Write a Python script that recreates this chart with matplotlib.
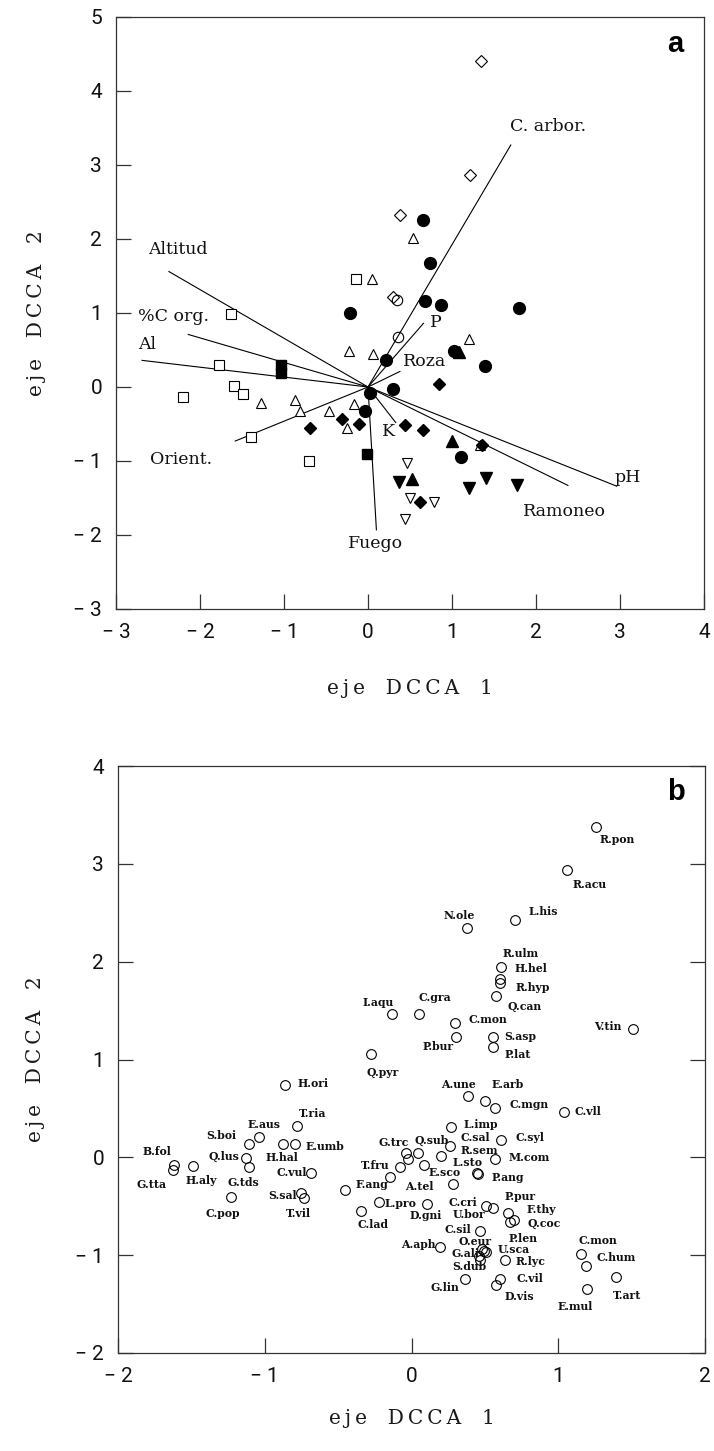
import matplotlib
matplotlib.use("Agg")
import matplotlib.pyplot as plt
import numpy as np

# ---------------- Panel a data ----------------
open_sq_x = [-0.14, -1.63, -1.77, -1.59, -1.49, -2.20, -1.39, -0.70]
open_sq_y = [1.46, 0.99, 0.30, 0.01, -0.09, -0.13, -0.68, -1.00]
fill_sq_x = [-1.03, -1.03, -0.01]
fill_sq_y = [0.30, 0.19, -0.91]
open_tri_x = [0.05, 0.54, -0.23, 0.06, 1.20, -1.27, -0.87, -0.81, -0.46, -0.17, -0.25, 1.33]
open_tri_y = [1.46, 2.01, 0.48, 0.44, 0.65, -0.22, -0.18, -0.33, -0.32, -0.23, -0.56, -0.78]
fill_tri_x = [1.08, 1.00, 0.52]
fill_tri_y = [0.47, -0.73, -1.24]
open_itri_x = [0.46, 0.50, 0.79, 0.44]
open_itri_y = [-1.03, -1.50, -1.55, -1.78]
fill_itri_x = [0.37, 1.20, 1.40, 1.77]
fill_itri_y = [-1.28, -1.37, -1.23, -1.33]
open_dia_x = [1.35, 1.21, 0.38, 0.30]
open_dia_y = [4.40, 2.87, 2.33, 1.22]
fill_dia_x = [0.85, -0.69, -0.31, -0.11, 0.44, 0.66, 1.36, 0.62]
fill_dia_y = [0.04, -0.55, -0.43, -0.50, -0.52, -0.58, -0.79, -1.55]
open_cir_x = [0.35, 0.36]
open_cir_y = [1.17, 0.68]
fill_cir_x = [0.65, 0.74, 0.675, 0.87, 1.80, -0.22, 1.02, 0.22, 1.39, 0.30, 0.02, -0.03, 1.11]
fill_cir_y = [2.26, 1.68, 1.16, 1.11, 1.07, 1.00, 0.48, 0.36, 0.28, -0.03, -0.08, -0.32, -0.94]

# environmental vectors (end points)
vec_names = ["Altitud", "%C org.", "Al", "Orient.", "Fuego", "K", "P", "Roza",
             "C. arbor.", "pH", "Ramoneo"]
vec_x = [-2.37, -2.14, -2.69, -1.58, 0.10, 0.33, 0.66, 0.38, 1.70, 2.96, 2.38]
vec_y = [1.56, 0.71, 0.36, -0.73, -1.93, -0.48, 0.86, 0.21, 3.27, -1.34, -1.33]
# label anchor positions (layout)
vec_lab_pos = [(-2.62, 1.855), (-2.74, 0.954), (-2.74, 0.57), (-2.60, -0.98),
               (-0.24, -2.11), (0.24, -0.60), (0.81, 0.865), (0.417, 0.346),
               (1.69, 3.52), (2.94, -1.225), (1.85, -1.68)]

# ---------------- Panel b data ----------------
sp_names = ["R.pon", "R.acu", "N.ole", "L.his", "R.ulm", "H.hel", "R.hyp", "Q.can",
            "C.gra", "I.aqu", "C.mon", "V.tin", "P.bur", "S.asp", "P.lat", "Q.pyr",
            "H.ori", "A.une", "E.arb", "C.mgn", "C.vll", "T.ria", "E.aus", "S.boi",
            "L.imp", "C.sal", "C.syl", "G.trc", "Q.sub", "R.sem", "M.com", "E.umb",
            "H.hal", "B.fol", "Q.lus", "G.tds", "G.tta", "H.aly", "C.vul", "T.fru",
            "E.sco", "L.sto", "P.ang", "A.tel", "F.ang", "S.sal", "T.vil", "C.pop",
            "L.pro", "C.lad", "D.gni", "C.cri", "U.bor", "P.pur", "F.thy", "Q.coc",
            "C.sil", "P.len", "A.aph", "O.eur", "G.ali", "S.dub", "U.sca", "R.lyc",
            "C.mon", "C.hum", "G.lin", "C.vil", "D.vis", "E.mul", "T.art", "", ""]
sp_x = [1.254, 1.059, 0.378, 0.707, 0.607, 0.600, 0.605, 0.578,
        0.050, -0.136, 0.295, 1.507, 0.306, 0.555, 0.555, -0.277,
        -0.862, 0.385, 0.499, 0.571, 1.038, -0.778, -1.039, -1.107,
        0.272, 0.261, 0.612, -0.039, 0.045, 0.199, 0.571, -0.794,
        -0.878, -1.617, -1.127, -1.107, -1.628, -1.492, -0.685, -0.080,
        0.086, 0.446, 0.455, 0.283, -0.454, -0.753, -0.731, -1.229,
        -0.222, -0.345, 0.106, 0.510, 0.555, 0.657, 0.698, 0.669,
        0.465, 0.478, 0.197, 0.494, 0.458, 0.465, 0.505, 0.635,
        1.152, 1.190, 0.367, 0.605, 0.578, 1.197, 1.395, -0.023, -0.148]
sp_y = [3.372, 2.940, 2.340, 2.431, 1.949, 1.821, 1.786, 1.644,
        1.465, 1.465, 1.369, 1.312, 1.234, 1.234, 1.125, 1.059,
        0.735, 0.624, 0.576, 0.509, 0.464, 0.321, 0.203, 0.132,
        0.305, 0.115, 0.176, 0.040, 0.041, 0.013, -0.017, 0.132,
        0.132, -0.078, -0.010, -0.096, -0.129, -0.092, -0.157, -0.102,
        -0.078, -0.163, -0.175, -0.272, -0.331, -0.366, -0.417, -0.401,
        -0.452, -0.547, -0.475, -0.496, -0.519, -0.570, -0.638, -0.661,
        -0.757, -0.940, -0.916, -0.960, -1.011, -1.045, -0.970, -1.052,
        -0.984, -1.106, -1.241, -1.248, -1.309, -1.350, -1.225, -0.020, -0.197]
# label offsets in pixels (layout)
sp_off = [(21.5, -12), (22.4, -14.4), (-8, 13.3), (28.3, 7.6), (20.5, 13), (31, 10.6),
          (32.3, -5), (27.8, -10.3), (15.5, 16.6), (-13.7, 11.6), (33, 3.4), (-24.8, 2.3),
          (-18.7, -10), (27.2, 0), (25.2, -7.3), (12.3, -18.4), (28, 2.3), (-9.1, 12),
          (23.3, 16.7), (33.3, 3.3), (24, 0), (15.2, 12.4), (5.3, 13.3), (-27.7, 9.3),
          (29, 3.3), (26, 8.7), (28.6, 2.7), (-12, 11), (13.7, 13.3), (39, 6),
          (33.8, 1.3), (30, -2.4), (-0.7, -13), (-17.7, 13.3), (-22, 1.6), (-6, -15.6),
          (-21.5, -14.3), (8.5, -14), (-19.7, 0), (-24.5, 2.3), (20.7, -7.7), (-9.6, 10.6),
          (29, -3.2), (-34, -2.7), (27.5, 5), (-18.5, -2.4), (-5.5, -15), (-8.5, -16.6),
          (22, -2.3), (12, -14), (-1.5, -12), (-23.7, 3.3), (-24.3, -6.7), (11.7, 16.6),
          (27.7, 10), (34.7, -1), (-21.7, 1.7), (41, 10.7), (-22.4, 2.3), (-9, 10),
          (-13.7, 2.7), (-10.5, -7.3), (27.8, 2.3), (26.2, -1), (17, 13.3), (29.8, 7.7),
          (-20.4, -8.4), (29.3, 0.7), (23.3, -10.7), (-11.7, -16.7), (10.8, -18.3),
          (0, 0), (0, 0)]

xticks_a = [-3, -2, -1, 0, 1, 2, 3, 4]
yticks_a = [-3, -2, -1, 0, 1, 2, 3, 4, 5]
xticks_b = [-2, -1, 0, 1, 2]
yticks_b = [-2, -1, 0, 1, 2, 3, 4]


def fmt(v):
    return ("\u2212 %d" % -v) if v < 0 else "%d" % v


W, H = 714, 1451
fig = plt.figure(figsize=(W / 100, H / 100), dpi=100)

tick_font = dict(family="Roboto", weight="normal", size=15, color="#111111")
lab_font = dict(family="DejaVu Serif", size=14.5, color="#1a1a1a")
spine_col = "#333333"


def style_axes(ax, xt, yt, right_ticks):
    ax.set_xticks(xt)
    ax.set_yticks(yt)
    ax.set_xticklabels([fmt(v) for v in xt], **tick_font)
    ax.set_yticklabels([fmt(v) for v in yt], **tick_font)
    ax.tick_params(direction="in", length=11, width=0.9, color=spine_col,
                   right=right_ticks, top=False, pad=10)
    for s in ax.spines.values():
        s.set_linewidth(0.9)
        s.set_color(spine_col)


def spaced(s):
    return "\u2009".join(s).replace(" ", "  ")


# ---------------- Panel a ----------------
axa = fig.add_axes([116 / W, 1 - 609 / H, 588 / W, 592 / H])
axa.set_xlim(-3, 4)
axa.set_ylim(-3, 5)
style_axes(axa, xticks_a, yticks_a, False)

for ex, ey in zip(vec_x, vec_y):
    axa.plot([0, ex], [0, ey], color="black", lw=0.8, zorder=2)
for name, (lx, ly) in zip(vec_names, vec_lab_pos):
    ha = "center" if name in ("K", "P") else "left"
    axa.text(lx, ly, name, ha=ha, va="center", fontsize=12.5,
             family="DejaVu Serif", color="#111111")

mk = dict(linestyle="none", zorder=3)
axa.plot(open_sq_x, open_sq_y, marker="s", ms=6.5, mfc="white", mec="black", mew=0.8, **mk)
axa.plot(fill_sq_x, fill_sq_y, marker="s", ms=7, mfc="black", mec="black", **mk)
axa.plot(open_tri_x, open_tri_y, marker="^", ms=7.5, mfc="white", mec="black", mew=0.8, **mk)
axa.plot(fill_tri_x, fill_tri_y, marker="^", ms=8, mfc="black", mec="black", **mk)
axa.plot(open_itri_x, open_itri_y, marker="v", ms=7.5, mfc="white", mec="black", mew=0.8, **mk)
axa.plot(fill_itri_x, fill_itri_y, marker="v", ms=8, mfc="black", mec="black", **mk)
axa.plot(open_dia_x, open_dia_y, marker="D", ms=5.8, mfc="white", mec="black", mew=0.8, **mk)
axa.plot(fill_dia_x, fill_dia_y, marker="D", ms=6, mfc="black", mec="black", **mk)
axa.plot(open_cir_x, open_cir_y, marker="o", ms=7.5, mfc="none", mec="black", mew=0.8, **mk)
axa.plot(fill_cir_x, fill_cir_y, marker="o", ms=8.5, mfc="black", mec="black", **mk)

axa.text(0.965, 0.955, "a", transform=axa.transAxes, ha="right", va="center",
         fontsize=21, fontweight="bold", family="Liberation Sans")
axa.set_xlabel(spaced("eje DCCA 1"), labelpad=27, **lab_font)
axa.set_ylabel(spaced("eje DCCA 2"), labelpad=20, **lab_font)

# ---------------- Panel b ----------------
axb = fig.add_axes([118 / W, 1 - 1353 / H, 587 / W, 587 / H])
axb.set_xlim(-2, 2)
axb.set_ylim(-2, 4)
style_axes(axb, xticks_b, yticks_b, True)

axb.plot(sp_x, sp_y, linestyle="none", marker="o", ms=7, mfc="none",
         mec="black", mew=0.8, zorder=3)
for name, x, y, (dx, dy) in zip(sp_names, sp_x, sp_y, sp_off):
    if name:
        axb.annotate(name, (x, y), xytext=(dx, dy), textcoords="offset pixels",
                     ha="center", va="center", fontsize=7.8, fontweight="bold",
                     family="DejaVu Serif", color="#111111")

axb.text(0.965, 0.955, "b", transform=axb.transAxes, ha="right", va="center",
         fontsize=21, fontweight="bold", family="Liberation Sans")
axb.set_xlabel(spaced("eje DCCA 1"), labelpad=17, **lab_font)
axb.set_ylabel(spaced("eje DCCA 2"), labelpad=22, **lab_font)

fig.savefig("out.png", dpi=100)
